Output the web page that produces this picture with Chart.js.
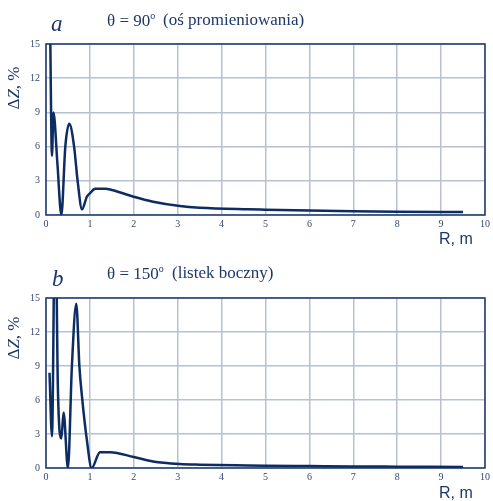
<!DOCTYPE html>
<html>
<head>
<meta charset="utf-8">
<script src="https://cdn.jsdelivr.net/npm/chart.js@4"></script>
<style>
  body { margin: 0; background: #fff; }
  #page { position: relative; width: 493px; height: 501px; overflow: hidden; font-family: 'Liberation Serif', serif; color: #1d3868; }
  canvas { position: absolute; left: 0; }
  .lbl { position: absolute; white-space: nowrap; line-height: 1; }
  .letter { font-style: italic; font-size: 23px; }
  .title { font-size: 17px; }
  .title sup { font-size: 10px; vertical-align: 7px; }
  .ylab { font-size: 17px; transform: translate(-50%, -50%) rotate(-90deg); }
  .ylab i { font-style: italic; }
  .xlab { font-family: 'Liberation Sans', sans-serif; font-size: 16px; }
</style>
</head>
<body>
<div id="page">
  <canvas id="chartA" width="493" height="250" style="top:0;width:493px;height:250px"></canvas>
  <canvas id="chartB" width="493" height="251" style="top:250px;width:493px;height:251px"></canvas>

  <div class="lbl letter" style="left:51px;top:12px">a</div>
  <div class="lbl title" style="left:107px;top:11px">θ = 90<sup>o</sup></div>
  <div class="lbl title" style="left:163px;top:11px">(oś promieniowania)</div>
  <div class="lbl ylab" style="left:13px;top:88px">Δ<i>Z</i>, %</div>
  <div class="lbl xlab" style="left:439px;top:231px">R, m</div>

  <div class="lbl letter" style="left:52px;top:267px">b</div>
  <div class="lbl title" style="left:107px;top:264px">θ = 150<sup>o</sup></div>
  <div class="lbl title" style="left:172px;top:264px">(listek boczny)</div>
  <div class="lbl ylab" style="left:13px;top:338px">Δ<i>Z</i>, %</div>
  <div class="lbl xlab" style="left:439px;top:485px">R, m</div>
</div>

<script>
// ---- data ----
const xTicks = [0, 1, 2, 3, 4, 5, 6, 7, 8, 9, 10];
const yTicks = [0, 3, 6, 9, 12, 15];

// a: theta = 90 deg
const rA = [0.09, 0.136, 0.17, 0.26, 0.35, 0.44, 0.53, 0.64, 0.72, 0.82, 0.93, 1.0, 1.12, 1.35, 1.5, 2.0, 2.44, 3.05, 3.5, 4.6, 5.0, 6.0, 7.0, 8.0, 9.5];
const dzA = [18, 5.2, 9.0, 4.5, 0, 6.0, 8.0, 6.0, 3.0, 0.5, 1.6, 1.9, 2.3, 2.3, 2.2, 1.6, 1.17, 0.79, 0.64, 0.5, 0.47, 0.4, 0.33, 0.29, 0.26];

// b: theta = 150 deg
const rB = [0.08, 0.136, 0.21, 0.27, 0.35, 0.40, 0.50, 0.59, 0.69, 0.76, 0.82, 0.93, 1.04, 1.23, 1.46, 2.0, 2.44, 3.05, 3.5, 4.6, 5.0, 6.0, 7.0, 8.0, 9.5];
const dzB = [8.4, 2.8, 24, 7.2, 2.6, 4.9, 0, 9.0, 14.5, 9.0, 6.3, 2.5, 0, 1.4, 1.4, 0.97, 0.58, 0.35, 0.29, 0.22, 0.2, 0.17, 0.14, 0.12, 0.09];

const LINE = '#0c2c62';
const GRID = '#b6c1d3';
const FRAME = '#1d3a6e';
const TICK = '#34496e';

// frame round the plot area
const framePlugin = {
    id: 'frame',
    beforeDatasetsDraw(chart) {
        const a = chart.chartArea;
        const ctx = chart.ctx;
        ctx.save();
        ctx.strokeStyle = FRAME;
        ctx.lineWidth = 1.5;
        ctx.strokeRect(a.left, a.top, a.right - a.left, a.bottom - a.top);
        ctx.restore();
    }
};

function makeChart(id, xs, ys, padTop, xAxisHeight) {
    const points = xs.map((x, i) => ({ x: x, y: ys[i] }));
    return new Chart(document.getElementById(id), {
        type: 'line',
        data: {
            datasets: [{
                data: points,
                borderColor: LINE,
                borderWidth: 2.5,
                pointRadius: 0,
                fill: false,
                cubicInterpolationMode: 'monotone'
            }]
        },
        options: {
            responsive: false,
            animation: false,
            layout: { padding: { top: padTop, right: 6, left: 0, bottom: 0 } },
            plugins: { legend: { display: false }, tooltip: { enabled: false } },
            scales: {
                x: {
                    type: 'linear',
                    min: 0,
                    max: 10,
                    afterFit: s => { s.height = xAxisHeight; },
                    afterBuildTicks: s => { s.ticks = xTicks.map(v => ({ value: v })); },
                    grid: { color: GRID, lineWidth: 1.5, drawTicks: false },
                    border: { display: false },
                    ticks: { padding: 3, color: TICK, maxRotation: 0, font: { family: "'Liberation Serif', serif", size: 10 } }
                },
                y: {
                    min: 0,
                    max: 15,
                    afterFit: s => { s.width = 46; },
                    afterBuildTicks: s => { s.ticks = yTicks.map(v => ({ value: v })); },
                    grid: { color: GRID, lineWidth: 1.5, drawTicks: false },
                    border: { display: false },
                    ticks: { padding: 6, color: TICK, font: { family: "'Liberation Serif', serif", size: 10 } }
                }
            }
        },
        plugins: [framePlugin]
    });
}

makeChart('chartA', rA, dzA, 44, 35);
makeChart('chartB', rB, dzB, 48, 33);
</script>
</body>
</html>
